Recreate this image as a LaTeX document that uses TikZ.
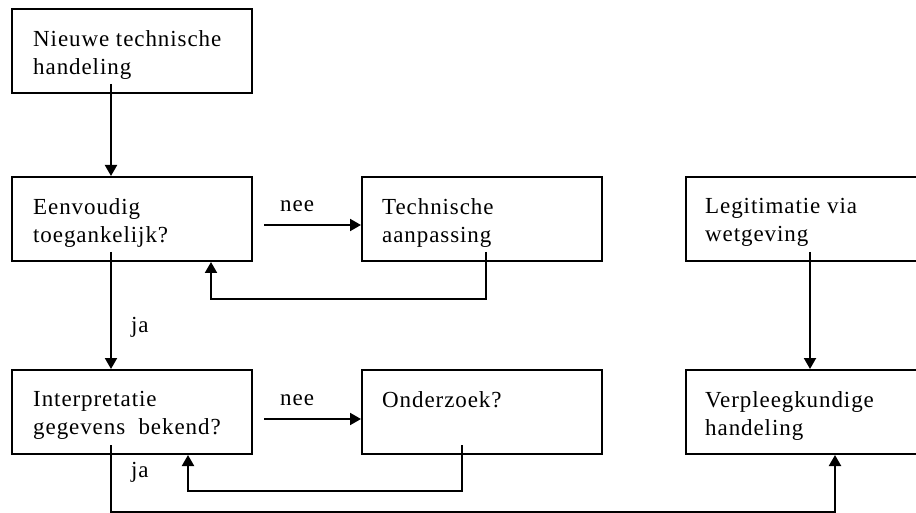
\documentclass[tikz,border=0pt]{standalone}
\usepackage{fontspec}
\setmainfont{Liberation Serif}[LetterSpace=4]
\usetikzlibrary{arrows.meta}
\begin{document}
\begin{tikzpicture}[x=1pt,y=-1pt,
  box/.style={draw,line width=2pt,minimum width=240pt,minimum height=84pt,anchor=north west,inner sep=0pt},
  txt/.style={anchor=north west,align=left,inner sep=0pt,font=\fontsize{23}{28}\selectfont},
  lbl/.style={anchor=base west,inner sep=0pt,font=\fontsize{23}{28}\selectfont},
  arr/.style={line width=2pt,-{Triangle[length=11pt,width=12pt]}}]
\useasboundingbox (0,0) rectangle (916,513);
% boxes
\node[box] (b1) at (11,8) {};
\node[box] (b2) at (11,176) {};
\node[box] (b3) at (361,176) {};
\node[box] (b4) at (11,369) {};
\node[box] (b5) at (361,369) {};
\node[box] (b6) at (685,176) {};
\node[box] (b7) at (685,369) {};
% texts
\node[txt] (t1) at ([xshift=22pt,yshift=-22pt]b1.north west) {Nieuwe technische\\handeling};
\node[txt] (t2) at ([xshift=22pt,yshift=-22pt]b2.north west) {Eenvoudig\\toegankelijk?};
\node[txt] (t3) at ([xshift=21pt,yshift=-22pt]b3.north west) {Technische\\aanpassing};
\node[txt] (t4) at ([xshift=22pt,yshift=-22pt]b4.north west) {Interpretatie\\gegevens\ \ bekend?};
\node[txt] (t5) at ([xshift=21pt,yshift=-22pt]b5.north west) {Onderzoek?};
\node[txt] (t6) at ([xshift=20pt,yshift=-22pt]b6.north west) {Legitimatie\ via\\wetgeving};
\node[txt] (t7) at ([xshift=20pt,yshift=-22pt]b7.north west) {Verpleegkundige\\handeling};
% labels
\node[lbl] (nee1) at (280,212) {nee};
\node[lbl] (nee2) at (280,405) {nee};
\node[lbl] (ja1) at (131,332) {ja};
\node[lbl] (ja2) at (131,477) {ja};
% connectors
\draw[arr] ([xshift=100pt,yshift=10pt]b1.south west) -- ([xshift=100pt]b1.south west |- b2.north);
\draw[arr] ([xshift=100pt,yshift=10pt]b2.south west) -- ([xshift=100pt]b2.south west |- b4.north);
\draw[arr] ([xshift=11pt,yshift=-6pt]b2.east) -- ([yshift=-6pt]b3.west);
\draw[arr] ([xshift=11pt,yshift=-7pt]b4.east) -- ([yshift=-7pt]b5.west);
\draw[arr] ([xshift=125pt,yshift=10pt]b3.south west) -- ++(0pt,-47pt) -| ([xshift=200pt]b2.south west);
\draw[arr] ([xshift=101pt,yshift=10pt]b5.south west) -- ++(0pt,-46pt) -| ([xshift=177pt]b4.south west);
\draw[arr] ([xshift=100pt,yshift=10pt]b4.south west) -- ++(0pt,-67pt) -| ([xshift=150pt]b7.south west);
\draw[arr] ([xshift=125pt,yshift=10pt]b6.south west) -- ([xshift=125pt]b6.south west |- b7.north);
\end{tikzpicture}
\end{document}
